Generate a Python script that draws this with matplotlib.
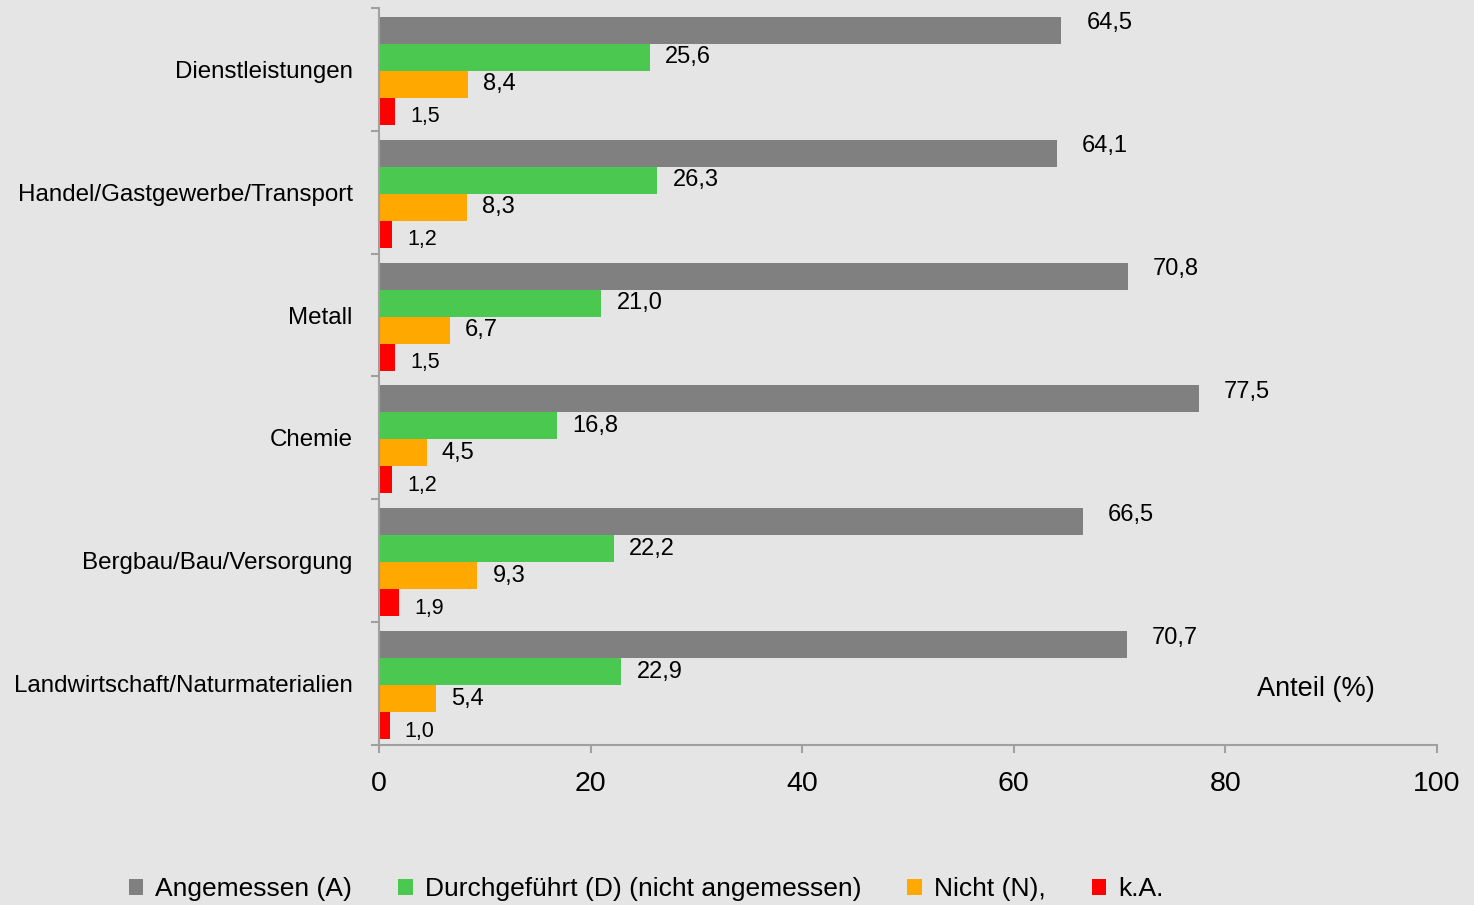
import matplotlib
matplotlib.use("Agg")
import matplotlib.pyplot as plt
from matplotlib.patches import Patch
import numpy as np

plt.rcParams['font.family'] = ['Liberation Sans', 'DejaVu Sans']

categories = ["Dienstleistungen", "Handel/Gastgewerbe/Transport", "Metall",
              "Chemie", "Bergbau/Bau/Versorgung", "Landwirtschaft/Naturmaterialien"]
series_names = ["Angemessen (A)", "Durchgeführt (D) (nicht angemessen)", "Nicht (N),", "k.A."]
angemessen = [64.5, 64.1, 70.8, 77.5, 66.5, 70.7]
durchgefuehrt = [25.6, 26.3, 21.0, 16.8, 22.2, 22.9]
nicht = [8.4, 8.3, 6.7, 4.5, 9.3, 5.4]
ka = [1.5, 1.2, 1.5, 1.2, 1.9, 1.0]
x_ticks = [0, 20, 40, 60, 80, 100]

colors = ["#808080", "#4BC84F", "#FFA800", "#FF0000"]
bg = "#E5E5E5"

fig = plt.figure(figsize=(14.74, 9.05), dpi=100, facecolor=bg)
ax = fig.add_axes([379/1474, 1-745/905, (1437-379)/1474, (745-8)/905])
ax.set_facecolor(bg)

data = [angemessen, durchgefuehrt, nicht, ka]
offsets = [-0.318, -0.098, 0.122, 0.342]
h = 0.22
n = len(categories)
centers = np.arange(n) + 0.5
label_offsets = [(18, 5), (11, 0), (11, 0), (11, -4)]
label_sizes = [17, 17, 17, 15.5]
for s, vals in enumerate(data):
    ys = centers + offsets[s]
    ax.barh(ys, vals, height=h, color=colors[s], edgecolor='none', zorder=2)
    for y, v in zip(ys, vals):
        ax.annotate(f"{v:.1f}".replace('.', ','), (v, y),
                    xytext=label_offsets[s], textcoords='offset points',
                    ha='left', va='center', fontsize=label_sizes[s], color='black')

ax.set_xlim(0, 100)
ax.set_ylim(n, 0)
ax.set_xticks(x_ticks)
ax.set_xticklabels([str(t) for t in x_ticks], fontsize=20.5)
ax.set_yticks(np.arange(n + 1))
ax.set_yticklabels([])
ax.set_yticks(centers, minor=True)
ax.set_yticklabels(categories, minor=True, fontsize=17.4)
ax.tick_params(axis='y', which='minor', length=0, pad=19)
ax.tick_params(axis='y', which='major', length=5.5, width=1.5, color='#A0A0A0', direction='out')
ax.tick_params(axis='x', length=6, width=1.5, color='#A0A0A0', direction='out', pad=12.5)

for side in ['top', 'right']:
    ax.spines[side].set_visible(False)
for side in ['left', 'bottom']:
    ax.spines[side].set_color('#A0A0A0')
    ax.spines[side].set_linewidth(1.5)

fig.text(1316/1474, 1-689/905, "Anteil (%)", ha='center', va='center', fontsize=19.5)

handles = [Patch(facecolor=c, edgecolor='none') for c in colors]
leg = fig.legend(handles, series_names, loc='center', bbox_to_anchor=(646/1474, 1-889/905),
                 ncol=4, frameon=False, fontsize=19, handlelength=0.55, handleheight=0.55,
                 handletextpad=0.45, columnspacing=1.75, borderpad=0)

fig.savefig("out.png", dpi=100, facecolor=bg)
